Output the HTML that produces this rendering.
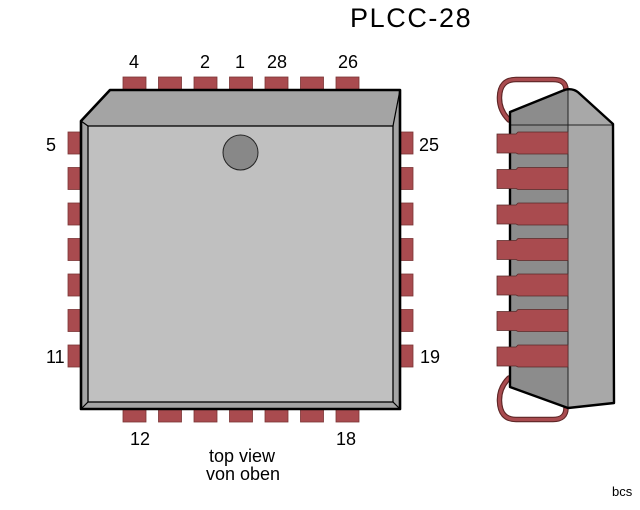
<!DOCTYPE html>
<html><head><meta charset="utf-8"><style>
html,body{margin:0;padding:0;background:#fff;}
svg{display:block;}
text{font-family:"Liberation Sans",Arial,sans-serif;fill:#000;}
</style></head><body>
<svg width="640" height="510" viewBox="0 0 640 510" xmlns="http://www.w3.org/2000/svg">
<rect width="640" height="510" fill="#fff"/>
<text x="350" y="27" font-size="27" letter-spacing="1.6">PLCC-28</text>

<!-- top pins -->
<g fill="#a94b4f" stroke="#7a3535" stroke-width="0.8">
<rect x="123" y="77" width="23" height="14"/>
<rect x="158.5" y="77" width="23" height="14"/>
<rect x="194" y="77" width="23" height="14"/>
<rect x="229.5" y="77" width="23" height="14"/>
<rect x="265" y="77" width="23" height="14"/>
<rect x="300.5" y="77" width="23" height="14"/>
<rect x="336" y="77" width="23" height="14"/>
<!-- bottom pins -->
<rect x="123" y="408" width="23" height="14"/>
<rect x="158.5" y="408" width="23" height="14"/>
<rect x="194" y="408" width="23" height="14"/>
<rect x="229.5" y="408" width="23" height="14"/>
<rect x="265" y="408" width="23" height="14"/>
<rect x="300.5" y="408" width="23" height="14"/>
<rect x="336" y="408" width="23" height="14"/>
<!-- left pins -->
<rect x="68" y="132" width="14" height="22"/>
<rect x="68" y="167.5" width="14" height="22"/>
<rect x="68" y="203" width="14" height="22"/>
<rect x="68" y="238.5" width="14" height="22"/>
<rect x="68" y="274" width="14" height="22"/>
<rect x="68" y="309.5" width="14" height="22"/>
<rect x="68" y="345" width="14" height="22"/>
<!-- right pins -->
<rect x="399" y="132" width="14" height="22"/>
<rect x="399" y="167.5" width="14" height="22"/>
<rect x="399" y="203" width="14" height="22"/>
<rect x="399" y="238.5" width="14" height="22"/>
<rect x="399" y="274" width="14" height="22"/>
<rect x="399" y="309.5" width="14" height="22"/>
<rect x="399" y="345" width="14" height="22"/>
</g>

<!-- main chip -->
<polygon points="81,121 110,90 400,90 400,409 81,409" fill="#a4a4a4" stroke="#000" stroke-width="2.6" stroke-linejoin="round"/>
<rect x="88" y="126" width="305" height="276" fill="#c0c0c0" stroke="#000" stroke-width="1.3"/>
<g stroke="#000" stroke-width="1.2">
<line x1="88" y1="126" x2="81" y2="121"/>
<line x1="393" y1="126" x2="400" y2="90"/>
<line x1="393" y1="402" x2="400" y2="409"/>
<line x1="88" y1="402" x2="81" y2="409"/>
</g>
<circle cx="240.5" cy="152.5" r="17.5" fill="#888" stroke="#222" stroke-width="1"/>

<!-- labels -->
<g font-size="18" text-anchor="middle">
<text x="134" y="68">4</text>
<text x="205" y="68">2</text>
<text x="240" y="68">1</text>
<text x="277" y="68">28</text>
<text x="348" y="68">26</text>
<text x="140" y="445">12</text>
<text x="346" y="445">18</text>
</g>
<g font-size="18">
<text x="46" y="151">5</text>
<text x="419" y="151">25</text>
<text x="46" y="363">11</text>
<text x="420" y="363">19</text>
</g>
<g font-size="18" text-anchor="middle">
<text x="242" y="462">top view</text>
<text x="243" y="480">von oben</text>
</g>
<text x="612" y="496" font-size="13">bcs</text>

<!-- side view loops -->
<g fill="none" stroke-linecap="round">
<path d="M509 120 Q499 110 499.5 97 Q500 79.5 516 79.5 L553 79.5 Q566 79.5 566 90" stroke="#5e2626" stroke-width="5.5"/>
<path d="M509 120 Q499 110 499.5 97 Q500 79.5 516 79.5 L553 79.5 Q566 79.5 566 90" stroke="#a94b4f" stroke-width="3.2"/>
<path d="M509 378 Q499 388 499.5 401 Q500 419.5 516 419.5 L553 419.5 Q566 419.5 566 408" stroke="#5e2626" stroke-width="5.5"/>
<path d="M509 378 Q499 388 499.5 401 Q500 419.5 516 419.5 L553 419.5 Q566 419.5 566 408" stroke="#a94b4f" stroke-width="3.2"/>
</g>

<!-- side body -->
<polygon points="510,112 568,90 568,408 510,387" fill="#8c8c8c"/>
<path d="M568 90 Q573 89 579 94 L613 124 L614 403 L568 408 Z" fill="#a8a8a8"/>
<g stroke="#222" stroke-width="1">
<line x1="510" y1="125" x2="613" y2="125"/>
<line x1="568" y1="90" x2="568" y2="408"/>
</g>
<path d="M510 112 L562 91 Q568 88 574 90 Q577 91 580 94 L613 124 L614 403 L568 408 L510 387 Z" fill="none" stroke="#000" stroke-width="2.4" stroke-linejoin="round"/>

<!-- side pins -->
<g fill="#a94b4f" stroke="#5a2a2a" stroke-width="0.8">
<polygon points="497,134 516,134 518,132 568,132 568,154 518,154 516,153 497,153"/>
<polygon points="497,169.5 516,169.5 518,167.5 568,167.5 568,189.5 518,189.5 516,188.5 497,188.5"/>
<polygon points="497,205 516,205 518,203 568,203 568,225 518,225 516,224 497,224"/>
<polygon points="497,240.5 516,240.5 518,238.5 568,238.5 568,260.5 518,260.5 516,259.5 497,259.5"/>
<polygon points="497,276 516,276 518,274 568,274 568,296 518,296 516,295 497,295"/>
<polygon points="497,311.5 516,311.5 518,309.5 568,309.5 568,331.5 518,331.5 516,330.5 497,330.5"/>
<polygon points="497,347 516,347 518,345 568,345 568,367 518,367 516,366 497,366"/>
</g>
</svg>
</body></html>
